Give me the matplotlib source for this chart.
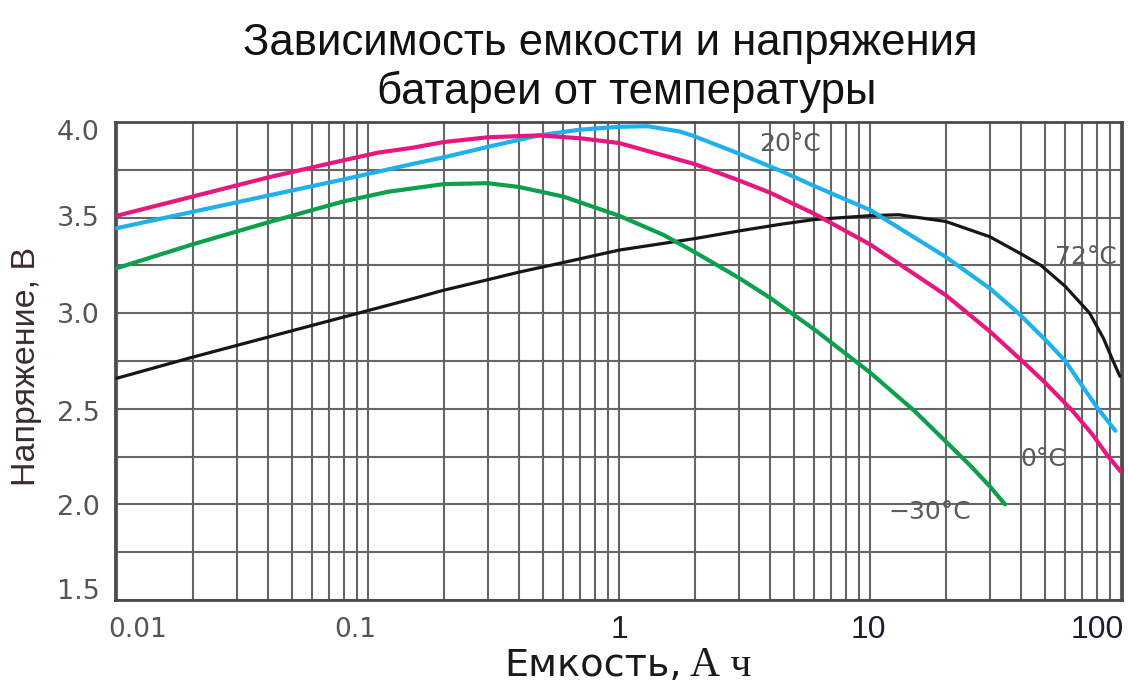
import matplotlib
matplotlib.use("Agg")
import matplotlib.pyplot as plt
from matplotlib.ticker import FixedLocator, NullFormatter
from matplotlib.transforms import offset_copy

# Capacity (A·h) vs. voltage (V) for four temperatures
cap_0 = [0.01, 0.02, 0.04, 0.08, 0.11, 0.15, 0.2, 0.3, 0.48, 0.7, 1.0, 2, 3, 4, 6,
         10, 20, 30, 40, 50, 64, 77, 89, 100]
volt_0 = [3.51, 3.61, 3.71, 3.80, 3.84, 3.865, 3.895, 3.92, 3.93, 3.915, 3.89,
          3.78, 3.695, 3.63, 3.52, 3.36, 3.095, 2.905, 2.755, 2.635, 2.49, 2.365,
          2.25, 2.17]

cap_20 = [0.01, 0.02, 0.04, 0.08, 0.15, 0.2, 0.3, 0.48, 0.7, 1.0, 1.3, 1.75, 2,
          3, 4.4, 6, 10, 20, 30, 39, 50, 60, 70, 81, 95]
volt_20 = [3.445, 3.53, 3.615, 3.70, 3.78, 3.815, 3.87, 3.93, 3.96, 3.975, 3.978,
           3.95, 3.925, 3.835, 3.745, 3.665, 3.54, 3.295, 3.13, 3.0, 2.86, 2.75,
           2.62, 2.5, 2.385]

cap_m30 = [0.01, 0.02, 0.04, 0.08, 0.12, 0.2, 0.3, 0.4, 0.6, 1.0, 1.5, 2, 3, 4, 6,
           10, 15, 20, 25, 30, 34.5]
volt_m30 = [3.236, 3.36, 3.475, 3.585, 3.635, 3.675, 3.68, 3.66, 3.61, 3.51,
            3.41, 3.32, 3.185, 3.08, 2.915, 2.69, 2.49, 2.33, 2.205, 2.095, 2.0]

cap_72 = [0.01, 0.02, 0.04, 0.08, 0.15, 0.2, 0.3, 0.4, 0.6, 1.0, 1.5, 2, 3, 4.4,
          6, 10, 13, 20, 30, 40, 48, 60, 75, 85, 93, 99]
volt_72 = [2.66, 2.77, 2.875, 2.98, 3.075, 3.12, 3.175, 3.215, 3.265, 3.33,
           3.365, 3.39, 3.43, 3.465, 3.49, 3.51, 3.515, 3.48, 3.40, 3.31, 3.25,
           3.14, 3.0, 2.87, 2.75, 2.67]

x_ticks = [0.01, 0.1, 1, 10, 100]
x_tick_labels = ["0.01", "0.1", "1", "10", "100"]
y_ticks = [1.5, 2.0, 2.5, 3.0, 3.5, 4.0]
y_tick_labels = ["1.5", "2.0", "2.5", "3.0", "3.5", "4.0"]

curve_labels = ["20°C", "72°C", "0°C", "−30°C"]
curve_label_x = [4.8, 72.6, 48.9, 17.3]
curve_label_y = [3.885, 3.294, 2.237, 1.96]

title_lines = ["Зависимость емкости и напряжения", "батареи от температуры"]
y_title = "Напряжение, В"
x_title_a = "Емкость,"
x_title_b = "А ч"

W, H = 1128, 684
fig = plt.figure(figsize=(W / 100, H / 100), dpi=100)
fig.patch.set_facecolor("white")
ax = fig.add_axes([115 / W, 84 / H, 1007 / W, 478 / H])

ax.set_xscale("log")
ax.set_xlim(0.00982, 100.9)
ax.set_ylim(1.5, 4.0)

grid_c = "#666666"
ax.xaxis.set_major_locator(FixedLocator(x_ticks))
ax.xaxis.set_minor_locator(FixedLocator(
    [m * 10.0 ** e for e in range(-2, 2) for m in range(2, 10)]))
ax.yaxis.set_major_locator(FixedLocator(y_ticks))
ax.yaxis.set_minor_locator(FixedLocator([1.75, 2.25, 2.75, 3.25, 3.75]))
ax.xaxis.set_major_formatter(NullFormatter())
ax.xaxis.set_minor_formatter(NullFormatter())
ax.yaxis.set_major_formatter(NullFormatter())
ax.tick_params(which="both", length=0)
ax.grid(True, which="both", color=grid_c, linewidth=1.5)
ax.set_axisbelow(True)
for s in ax.spines.values():
    s.set_color("#4a4a4a")
    s.set_linewidth(2.0)

line_kw = dict(solid_capstyle="round", solid_joinstyle="round", zorder=3)
ax.plot(cap_72, volt_72, color="#161616", lw=2.3, **line_kw)
ax.plot(cap_m30, volt_m30, color="#0aa04c", lw=3.0, **line_kw)
ax.plot(cap_20, volt_20, color="#1fb0ee", lw=3.0, **line_kw)
ax.plot(cap_0, volt_0, color="#e8177f", lw=3.0, **line_kw)

for t, cx, cy in zip(curve_labels, curve_label_x, curve_label_y):
    ax.text(cx, cy, t, ha="center", va="center", fontsize=18, color="#5a5a5a",
            family="DejaVu Sans", zorder=4)

# Tick labels, nudged individually
xt = ax.get_xaxis_transform()
x_dx = [21, -13, 0, -2, -24]
for v, lab, dx in zip(x_ticks, x_tick_labels, x_dx):
    if "." in lab:
        kw = dict(family="DejaVu Sans", fontsize=19, color="#555555")
    else:
        kw = dict(family="Liberation Sans", fontsize=23, color="#1c1c30")
    tr = offset_copy(xt, fig=fig, x=dx, y=-30, units="dots")
    ax.text(v, 0, lab, transform=tr, ha="center", va="center", **kw)

yt = ax.get_yaxis_transform()
y_dy = [8, -4, -5, -3, -1, -11]
for v, lab, dy in zip(y_ticks, y_tick_labels, y_dy):
    tr = offset_copy(yt, fig=fig, x=-15, y=dy, units="dots")
    ax.text(0, v, lab, transform=tr, ha="right", va="center",
            family="DejaVu Sans", fontsize=19.5, color="#555555")

# Titles
fig.text(610 / W, 1 - 55 / H, title_lines[0], ha="center", va="baseline",
         fontsize=31.5, family="Liberation Sans", color="#111111")
fig.text(627 / W, 1 - 104 / H, title_lines[1], ha="center", va="baseline",
         fontsize=31.5, family="Liberation Sans", color="#111111")

fig.text(27 / W, 1 - 367 / H, y_title, ha="center", va="center", rotation=90,
         fontsize=24.5, family="Liberation Sans", color="#3a2c30")

fig.text(682 / W, 1 - 676 / H, x_title_a, ha="right", va="baseline",
         fontsize=27.5, family="DejaVu Sans", color="#1a1a1a")
fig.text(690 / W, 1 - 676 / H, x_title_b, ha="left", va="baseline",
         fontsize=30, family="Liberation Serif", color="#1a1a1a")

fig.savefig("out.png", dpi=100, facecolor="white")
